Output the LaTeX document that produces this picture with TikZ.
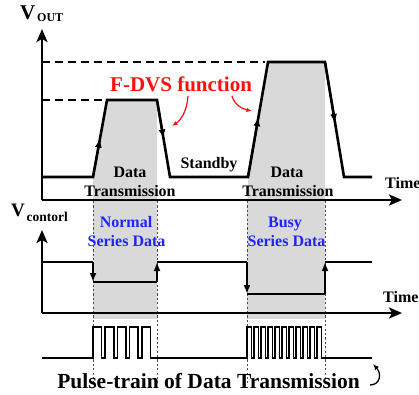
\documentclass[tikz,border=0pt]{standalone}
\usepackage{fontspec}
\setmainfont{Liberation Serif}
\usetikzlibrary{arrows.meta,calc}

\definecolor{windowgray}{HTML}{D9D9D9}
\definecolor{labelblue}{HTML}{2222FF}
\definecolor{labelred}{HTML}{FF1010}

\begin{document}
\begin{tikzpicture}[x=1pt,y=-1pt,
  sig/.style={line width=2.6pt, line join=miter},
  axisline/.style={line width=2.6pt,-{Stealth[length=13pt,width=11pt,inset=3pt]}},
  guide/.style={line width=2pt, dash pattern=on 8pt off 5pt},
  window/.style={gray!60!black, line width=1pt, dash pattern=on 2.2pt off 2.2pt},
  pulse/.style={line width=1.5pt, line join=miter},
  midarrow/.style={line width=2pt,-{Latex[length=9pt,width=7pt]}},
  endarrow/.style={-{Latex[length=9pt,width=7pt]}},
  lbl/.style={font=\fontsize{16}{18}\selectfont\bfseries, inner sep=0pt, anchor=base},
  bluelbl/.style={lbl, text=labelblue},
]
\useasboundingbox (0,0) rectangle (419,394);

% ---------- shaded data-transmission windows ----------
\fill[windowgray] (93,200) -- (93,177) -- (107,100) -- (157,100) -- (157,200) -- cycle;
\fill[windowgray] (248,200) -- (248,177) -- (268,62) -- (325,62) -- (325,200) -- cycle;
\fill[windowgray] (93,201) rectangle (157,319);
\fill[windowgray] (247,201) rectangle (325,319);

\coordinate (w1top) at (93,201);  \coordinate (w1bot) at (93,383);
\coordinate (w2top) at (157,201); \coordinate (w2bot) at (157,383);
\coordinate (w3top) at (247,201); \coordinate (w3bot) at (247,383);
\coordinate (w4top) at (325,201); \coordinate (w4bot) at (325,383);
\draw[window] (w1top) -- (w1bot);
\draw[window] (w2top) -- (w2bot);
\draw[window] (w3top) -- (w3bot);
\draw[window] (w4top) -- (w4bot);

% ---------- V_OUT axes ----------
\coordinate (o1) at (42,200);
\coordinate (o1y) at (42,29);
\coordinate (o1x) at (402,200);
\draw[axisline] (o1) -- (o1y);
\draw[axisline] (o1) -- (o1x);

% level guides
\coordinate (g1a) at (42,62);  \coordinate (g1b) at (265,62);
\coordinate (g2a) at (42,100); \coordinate (g2b) at (105,100);
\draw[guide] (g1a) -- (g1b);
\draw[guide] (g2a) -- (g2b);

% output voltage waveform
\coordinate (v0) at (42,177);
\coordinate (v1) at (93,177);
\coordinate (v2) at (107,100);
\coordinate (v3) at (157,100);
\coordinate (v4) at (170,177);
\coordinate (v5) at (248,177);
\coordinate (v6) at (268,62);
\coordinate (v7) at (325,62);
\coordinate (v8) at (344,177);
\coordinate (v9) at (372,177);
\draw[sig] (v0) -- (v1) -- (v2) -- (v3) -- (v4) -- (v5) -- (v6) -- (v7) -- (v8) -- (v9);
\draw[midarrow] (v1) -- ($(v1)!0.5!(v2)$);
\draw[midarrow] (v3) -- ($(v3)!0.5!(v4)$);
\draw[midarrow] (v5) -- ($(v5)!0.52!(v6)$);
\draw[midarrow] (v7) -- ($(v7)!0.53!(v8)$);

% labels of the upper plot
\node[inner sep=0pt, anchor=base west, font=\fontsize{21}{24}\selectfont\bfseries] (vout) at (20,19) {V};
\node[inner sep=0pt, anchor=base west, font=\fontsize{12}{14}\selectfont\bfseries] (voutsub) at (37,21) {OUT};
\node[lbl, text=labelred, font=\fontsize{21}{24}\selectfont\bfseries, anchor=base west] (fdvs) at (110,91) {F-DVS function};
\node[lbl] (dt1a) at (130,177) {Data};
\node[lbl] (dt1b) at (130,196) {Transmission};
\node[lbl] (stby) at (209,168) {Standby};
\node[lbl] (dt2a) at (287,177) {Data};
\node[lbl] (dt2b) at (288,196) {Transmission};
\node[lbl, anchor=base west] (time1) at (385,188) {Time};

% pointers from the F-DVS label to the slopes
\coordinate (fa1) at (188,96);  \coordinate (fb1) at (172,126);
\coordinate (fa2) at (232,96);  \coordinate (fb2) at (252,111);
\draw[labelred, line width=1.2pt, -{Latex[length=5.5pt,width=4.5pt]}]
  (fa1) .. controls (187,111) and (181,120) .. (fb1);
\draw[labelred, line width=1.2pt, -{Latex[length=5.5pt,width=4.5pt]}]
  (fa2) .. controls (234,104) and (242,109) .. (fb2);

% ---------- V_control axes ----------
\coordinate (o2) at (42,313);
\coordinate (o2y) at (42,230);
\coordinate (o2x) at (402,313);
\draw[axisline] (o2) -- (o2y);
\draw[axisline] (o2) -- (o2x);

\node[inner sep=0pt, anchor=base west, font=\fontsize{19}{22}\selectfont\bfseries] (vc) at (11,216) {V};
\node[inner sep=0pt, anchor=base west, font=\fontsize{13.5}{15}\selectfont\bfseries] (vcsub) at (26.5,221) {contorl};
\node[lbl, anchor=base west] (time2) at (383,302) {Time};
\node[bluelbl] (nrm) at (126,227) {Normal};
\node[bluelbl] (nrmb) at (126.5,246) {Series Data};
\node[bluelbl] (bsy) at (285,227) {Busy};
\node[bluelbl] (bsyb) at (286.5,246) {Series Data};

% control voltage waveform
\coordinate (c0) at (42,262);
\coordinate (c1) at (93,262);
\coordinate (c2) at (93,282);
\coordinate (c3) at (157,282);
\coordinate (c4) at (157,262);
\coordinate (c5) at (247,262);
\coordinate (c6) at (247,294);
\coordinate (c7) at (325,294);
\coordinate (c8) at (325,262);
\coordinate (c9) at (372,262);
\draw[sig] (c0) -- (c1);
\draw[sig, endarrow] (c1) -- (c2);
\draw[sig] (c2) -- (c3);
\draw[sig, endarrow] (c3) -- (c4);
\draw[sig] (c4) -- (c5);
\draw[sig, endarrow] (c5) -- (c6);
\draw[sig] (c6) -- (c7);
\draw[sig, endarrow] (c7) -- (c8);
\draw[sig] (c8) -- (c9);

% ---------- pulse trains ----------
\coordinate (p0) at (42,358);
\coordinate (p1) at (93,358);
\coordinate (p2) at (247,358);
\coordinate (p3) at (372,358);
\draw[pulse] (p0) -- (p1)
  foreach \i in {1,...,5} { -- ++(0,-31) -- ++(8.6,0) -- ++(0,31) -- ++(3.6,0) }
  -- (p2)
  foreach \i in {1,...,11} { -- ++(0,-31) -- ++(4.6,0) -- ++(0,31) -- ++(2.4,0) }
  -- (p3);

\node[lbl, font=\fontsize{21.5}{24}\selectfont\bfseries] (ptl) at (208.5,388) {Pulse-train of Data Transmission};

% small hook arrow after the caption
\coordinate (hk1) at (370,385);
\coordinate (hk2) at (373,364);
\draw[line width=1.3pt, -{Latex[length=6pt,width=5pt]}]
  (hk1) .. controls (380,385) and (382,374) .. (hk2);
\end{tikzpicture}
\end{document}
